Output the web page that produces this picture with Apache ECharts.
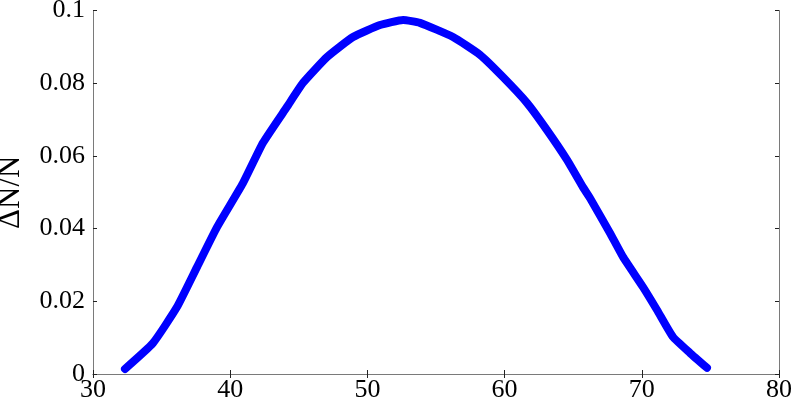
<!DOCTYPE html>
<html>
<head>
<meta charset="utf-8">
<script src="https://cdn.jsdelivr.net/npm/echarts@6/dist/echarts.min.js"></script>
<style>html,body{margin:0;padding:0;background:#fff}#c{width:792px;height:405px}</style>
</head>
<body>
<div id="c"></div>
<script>
const xValues = [32.33, 34.37, 36.12, 37.58, 39.04, 40.93, 42.39, 44.14, 45.31, 47.06, 48.95, 50.92, 52.6, 53.83, 56.24, 58.21, 59.88, 61.63, 63.09, 64.55, 65.71, 66.22, 67.68, 68.63, 70.09, 71.11, 72.27, 73.51, 74.75];
const yValues = [0.0014, 0.0085, 0.0184, 0.0294, 0.0404, 0.0525, 0.0636, 0.0735, 0.0801, 0.0872, 0.0927, 0.0960, 0.0974, 0.0966, 0.0927, 0.0878, 0.0817, 0.0746, 0.0671, 0.0589, 0.0514, 0.0484, 0.0388, 0.0322, 0.0239, 0.0176, 0.0102, 0.0058, 0.0017];
const xTicks = [30, 40, 50, 60, 70, 80];
const yTicks = [0, 0.02, 0.04, 0.06, 0.08, 0.1];
const yName = 'ΔN/N';

const font = 'Liberation Serif, Times New Roman, serif';
const axisLineStyle = {color: '#7a7a7a', width: 1};
const tick = {show: true, inside: true, length: 4, lineStyle: {color: '#222', width: 1}};

const chart = echarts.init(document.getElementById('c'), null, {renderer: 'canvas'});
chart.setOption({
  animation: false,
  backgroundColor: '#fff',
  grid: {left: 93, right: 13, top: 10.5, bottom: 31, containLabel: false, outerBoundsMode: 'none'},
  xAxis: [{
    type: 'value', min: xTicks[0], max: xTicks[xTicks.length - 1], interval: 10,
    position: 'bottom',
    axisLine: {show: true, lineStyle: axisLineStyle},
    axisTick: tick,
    splitLine: {show: false},
    axisLabel: {fontFamily: font, fontSize: 26, color: '#000', margin: 3}
  }, {
    type: 'value', min: xTicks[0], max: xTicks[xTicks.length - 1], interval: 10,
    position: 'top',
    axisLine: {show: true, lineStyle: axisLineStyle},
    axisTick: tick,
    splitLine: {show: false},
    axisLabel: {show: false}
  }],
  yAxis: [{
    type: 'value', min: yTicks[0], max: yTicks[yTicks.length - 1], interval: 0.02,
    position: 'left',
    name: yName, nameLocation: 'middle', nameGap: 67,
    nameTextStyle: {fontFamily: font, fontSize: 31, color: '#000'},
    axisLine: {show: true, lineStyle: axisLineStyle},
    axisTick: tick,
    splitLine: {show: false},
    axisLabel: {fontFamily: font, fontSize: 26, color: '#000', margin: 8,
      formatter: v => String(+v.toFixed(2))}
  }, {
    type: 'value', min: yTicks[0], max: yTicks[yTicks.length - 1], interval: 0.02,
    position: 'right',
    axisLine: {show: true, lineStyle: axisLineStyle},
    axisTick: tick,
    splitLine: {show: false},
    axisLabel: {show: false}
  }],
  series: [{
    type: 'line',
    data: xValues.map((x, i) => [x, yValues[i]]),
    smooth: 0.15,
    showSymbol: false,
    lineStyle: {color: '#0000ff', width: 8, cap: 'round', join: 'round'},
    xAxisIndex: 0, yAxisIndex: 0
  }]
});
</script>
</body>
</html>
